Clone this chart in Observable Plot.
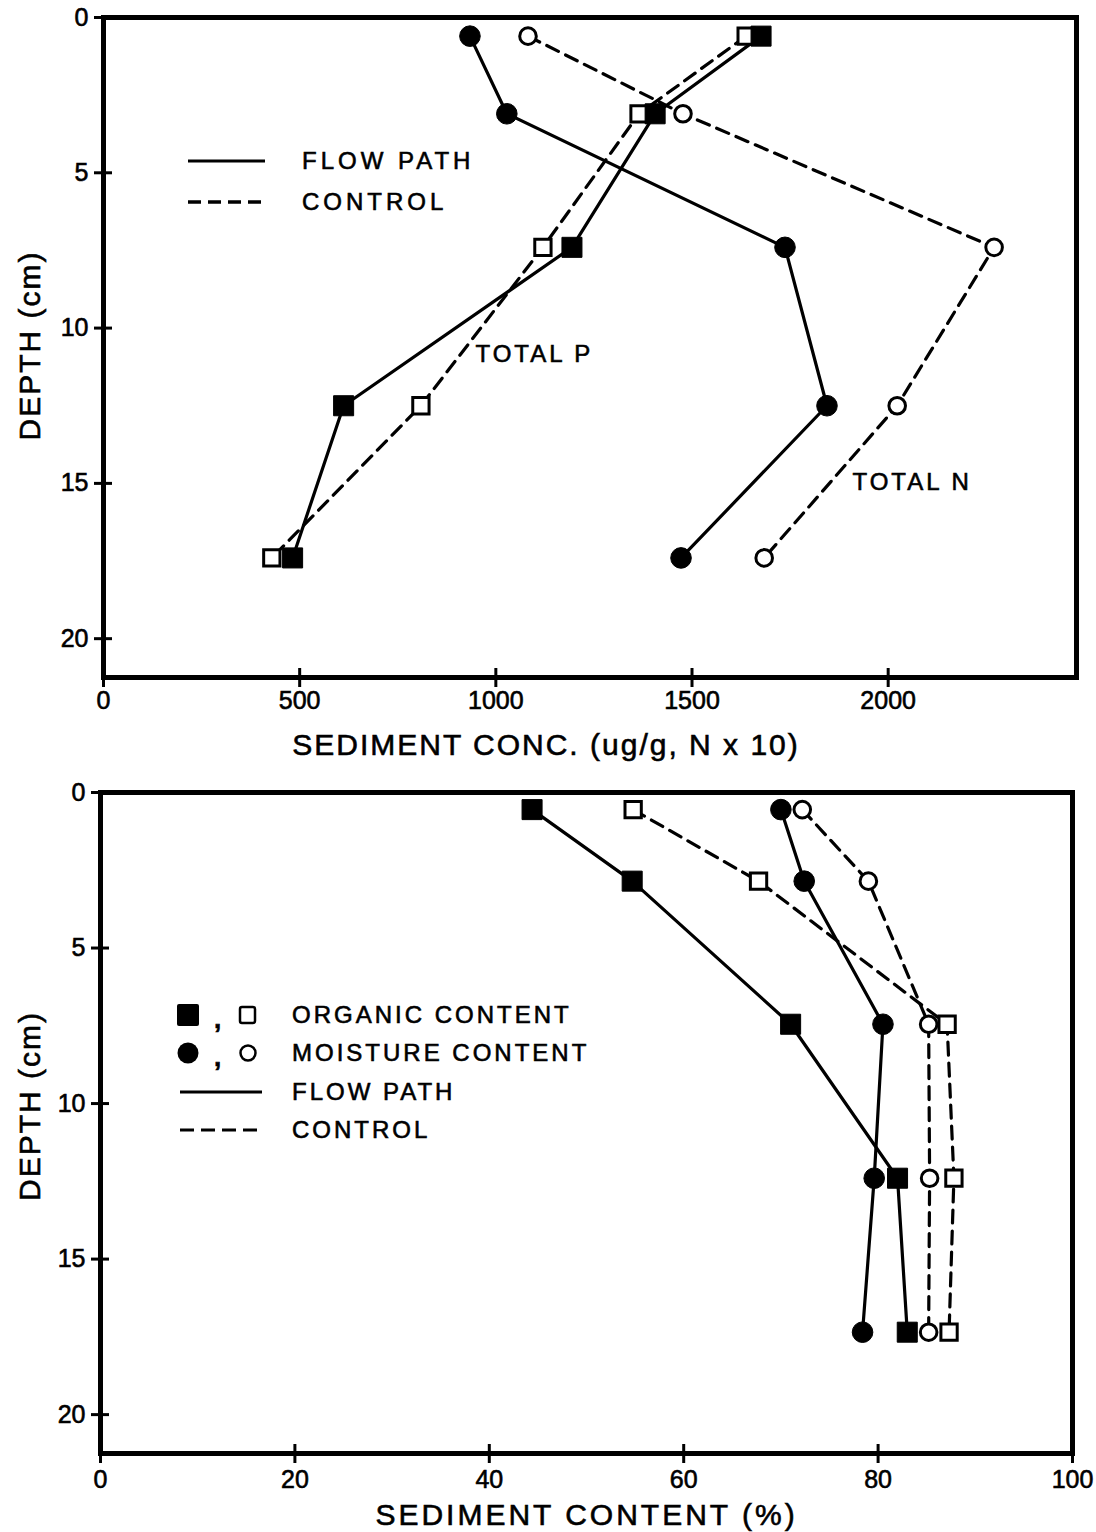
<!DOCTYPE html>
<html>
<head>
<meta charset="utf-8">
<script src="https://cdn.jsdelivr.net/npm/d3@7"></script>
<script src="https://cdn.jsdelivr.net/npm/@observablehq/plot@0.6"></script>
<style>
html, body { margin: 0; padding: 0; background: #fff; }
#page { position: relative; width: 1096px; height: 1532px; overflow: hidden; background: #fff; }
#top { position: absolute; left: 0; top: 0; }
#bottom { position: absolute; left: 0; top: 775px; }
svg text { font-family: "Liberation Sans", Arial, sans-serif; stroke: black; stroke-width: 0.6px; }
.ls2 text { letter-spacing: 2px; }
.ls3 text { letter-spacing: 3px; }
.ls4 text { letter-spacing: 4px; }
</style>
</head>
<body>
<div id="page"><div id="top"></div><div id="bottom"></div></div>
<script>
// ---------- Data: top panel (sediment concentration) ----------
const depthTop = [0.6, 3.1, 7.4, 12.5, 17.4];
const totalPFlow = [1676, 1406, 1194, 612, 482];
const totalPControl = [1638, 1365, 1120, 809, 429];
const totalNFlow = [934, 1028, 1737, 1844, 1472];
const totalNControl = [1082, 1477, 2270, 2023, 1684];
const xTicksTop = [0, 500, 1000, 1500, 2000];

// ---------- Data: bottom panel (sediment content %) ----------
const depthBottom = [0.55, 2.85, 7.45, 12.4, 17.35];
const organicFlow = [44.4, 54.7, 71.0, 82.0, 83.0];
const organicControl = [54.8, 67.7, 87.1, 87.8, 87.3];
const moistureFlow = [70.0, 72.4, 80.5, 79.6, 78.4];
const moistureControl = [72.2, 79.0, 85.2, 85.3, 85.2];
const xTicksBottom = [0, 20, 40, 60, 80, 100];

const yTicks = [0, 5, 10, 15, 20];

const W = 1096;
const FONT = "Liberation Sans, Arial, sans-serif";
const rows = (vals, depth) => vals.map((v, i) => ({value: v, depth: depth[i]}));

const solid = {x: "value", y: "depth", stroke: "black", strokeWidth: 3.2};
const dashed = {...solid, strokeDasharray: "13,8"};
const filledSq = {x: "value", y: "depth", symbol: "square", r: 11.3, fill: "black", stroke: "black", strokeWidth: 1};
const openSq = {x: "value", y: "depth", symbol: "square", r: 9.2, fill: "white", stroke: "black", strokeWidth: 3};
const filledCi = {x: "value", y: "depth", symbol: "circle", r: 10.3, fill: "black", stroke: "black", strokeWidth: 1};
const openCi = {x: "value", y: "depth", symbol: "circle", r: 8.3, fill: "white", stroke: "black", strokeWidth: 3};

function axes(xTicks, innerW, innerH, xPad) {
  return [
    Plot.frame({stroke: "black", strokeWidth: 5}),
    Plot.axisX(xTicks, {tickSize: 10, tickPadding: xPad, strokeWidth: 3, fontSize: 25, label: null, tickFormat: d => String(d)}),
    Plot.tickX(xTicks, {x: d => d, insetTop: innerH - 9, strokeWidth: 3}),
    Plot.axisY(yTicks, {tickSize: 9, tickPadding: 6, strokeWidth: 3, fontSize: 25, label: null, tickFormat: d => String(d)}),
    Plot.tickY(yTicks, {y: d => d, insetRight: innerW - 9, strokeWidth: 3})
  ];
}

// ---------- Top chart ----------
const H1 = 760, mL1 = 103, mR1 = 20, mT1 = 17, mB1 = 83;
const inW1 = W - mL1 - mR1, inH1 = H1 - mT1 - mB1;
const topChart = Plot.plot({
  width: W, height: H1,
  marginLeft: mL1, marginRight: mR1, marginTop: mT1, marginBottom: mB1,
  x: {domain: [0, 2480]},
  y: {domain: [0, 21.25], reverse: true},
  style: {fontFamily: FONT, background: "white", color: "black", overflow: "visible"},
  marks: [
    ...axes(xTicksTop, inW1, inH1, 4),
    Plot.line(rows(totalPControl, depthTop), dashed),
    Plot.line(rows(totalNControl, depthTop), dashed),
    Plot.line(rows(totalPFlow, depthTop), solid),
    Plot.line(rows(totalNFlow, depthTop), solid),
    Plot.dot(rows(totalPControl, depthTop), openSq),
    Plot.dot(rows(totalNControl, depthTop), openCi),
    Plot.dot(rows(totalPFlow, depthTop), filledSq),
    Plot.dot(rows(totalNFlow, depthTop), filledCi),
    Plot.text([{x: 948, y: 10.85, t: "TOTAL P"}, {x: 1909, y: 14.98, t: "TOTAL N"}],
      {x: "x", y: "y", text: "t", textAnchor: "start", lineAnchor: "middle", fontSize: 24, className: "ls3"}),
    Plot.text(["DEPTH (cm)"], {frameAnchor: "left", rotate: -90, dx: -73, dy: -2, textAnchor: "middle", lineAnchor: "middle", fontSize: 30, className: "ls2"}),
    Plot.text(["SEDIMENT CONC. (ug/g, N x 10)"], {frameAnchor: "bottom", dx: -44, dy: 68, textAnchor: "middle", lineAnchor: "middle", fontSize: 30, className: "ls2"})
  ]
});
document.getElementById("top").appendChild(topChart);

// legend top
{
  const g = d3.select(topChart).append("g").attr("class", "ls4").attr("text-anchor", "start");
  g.append("line").attr("x1", 188).attr("x2", 265).attr("y1", 161).attr("y2", 161).attr("stroke", "black").attr("stroke-width", 3);
  g.append("line").attr("x1", 188).attr("x2", 265).attr("y1", 202).attr("y2", 202).attr("stroke", "black").attr("stroke-width", 3.5).attr("stroke-dasharray", "13,7");
  g.append("text").attr("x", 302).attr("y", 161).attr("dy", "0.35em").attr("font-size", 24).attr("text-anchor", "start").text("FLOW PATH");
  g.append("text").attr("x", 302).attr("y", 202).attr("dy", "0.35em").attr("font-size", 24).attr("text-anchor", "start").text("CONTROL");
}

// ---------- Bottom chart ----------
const H2 = 757, mL2 = 100, mR2 = 24, mT2 = 17, mB2 = 79;
const inW2 = W - mL2 - mR2, inH2 = H2 - mT2 - mB2;
const bottomChart = Plot.plot({
  width: W, height: H2,
  marginLeft: mL2, marginRight: mR2, marginTop: mT2, marginBottom: mB2,
  x: {domain: [0, 100]},
  y: {domain: [0, 21.25], reverse: true},
  style: {fontFamily: FONT, background: "white", color: "black", overflow: "visible"},
  marks: [
    ...axes(xTicksBottom, inW2, inH2, 7),
    Plot.line(rows(organicControl, depthBottom), dashed),
    Plot.line(rows(moistureControl, depthBottom), dashed),
    Plot.line(rows(organicFlow, depthBottom), solid),
    Plot.line(rows(moistureFlow, depthBottom), solid),
    Plot.dot(rows(moistureControl, depthBottom), openCi),
    Plot.dot(rows(organicControl, depthBottom), openSq),
    Plot.dot(rows(moistureFlow, depthBottom), filledCi),
    Plot.dot(rows(organicFlow, depthBottom), filledSq),
    Plot.text(["DEPTH (cm)"], {frameAnchor: "left", rotate: -90, dx: -70, dy: -17, textAnchor: "middle", lineAnchor: "middle", fontSize: 30, className: "ls2"}),
    Plot.text(["SEDIMENT CONTENT (%)"], {frameAnchor: "bottom", dx: 0, dy: 62, textAnchor: "middle", lineAnchor: "middle", fontSize: 30, className: "ls3"})
  ]
});
document.getElementById("bottom").appendChild(bottomChart);

// legend bottom
{
  const g = d3.select(bottomChart).append("g").attr("class", "ls3").attr("text-anchor", "start");
  const rowsY = [240, 278, 317, 355];
  const tx = 292;
  g.append("rect").attr("x", 177).attr("y", rowsY[0] - 11).attr("width", 22).attr("height", 22).attr("rx", 2).attr("fill", "black");
  g.append("text").attr("x", 214).attr("y", rowsY[0] + 4).attr("dy", "0.35em").attr("font-size", 26).attr("font-weight", "bold").attr("text-anchor", "start").text(",");
  g.append("rect").attr("x", 240).attr("y", rowsY[0] - 8).attr("width", 15).attr("height", 16).attr("rx", 2).attr("fill", "white").attr("stroke", "black").attr("stroke-width", 2.5);
  g.append("circle").attr("cx", 188).attr("cy", rowsY[1]).attr("r", 10.5).attr("fill", "black");
  g.append("text").attr("x", 214).attr("y", rowsY[1] + 4).attr("dy", "0.35em").attr("font-size", 26).attr("font-weight", "bold").attr("text-anchor", "start").text(",");
  g.append("circle").attr("cx", 248).attr("cy", rowsY[1]).attr("r", 7.5).attr("fill", "white").attr("stroke", "black").attr("stroke-width", 2.5);
  g.append("line").attr("x1", 180).attr("x2", 262).attr("y1", rowsY[2]).attr("y2", rowsY[2]).attr("stroke", "black").attr("stroke-width", 3);
  g.append("line").attr("x1", 180).attr("x2", 262).attr("y1", rowsY[3]).attr("y2", rowsY[3]).attr("stroke", "black").attr("stroke-width", 3).attr("stroke-dasharray", "14,7");
  const labels = ["ORGANIC CONTENT", "MOISTURE CONTENT", "FLOW PATH", "CONTROL"];
  labels.forEach((t, i) => {
    g.append("text").attr("x", tx).attr("y", rowsY[i]).attr("dy", "0.35em").attr("font-size", 24).attr("text-anchor", "start").text(t);
  });
}
</script>
</body>
</html>
